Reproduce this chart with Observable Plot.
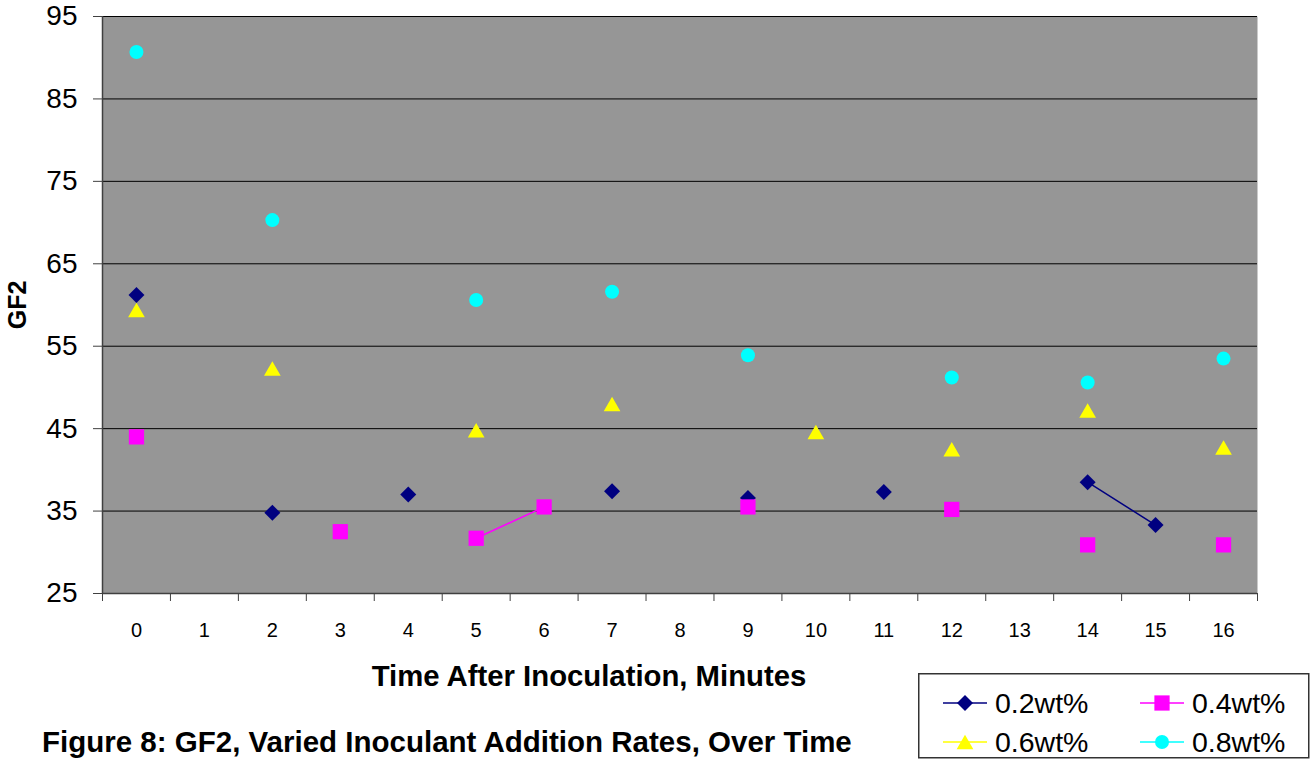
<!DOCTYPE html>
<html>
<head>
<meta charset="utf-8">
<script src="https://cdn.jsdelivr.net/npm/d3@7"></script>
<script src="https://cdn.jsdelivr.net/npm/@observablehq/plot@0.6"></script>
<style>
  body { margin: 0; background: #fff; }
  #wrap { position: relative; width: 1312px; height: 759px; overflow: hidden; background: #fff;
          font-family: "Liberation Sans", Arial, sans-serif; color: #000; }
  #chart { position: absolute; left: 0; top: 0; }
  .lbl { position: absolute; white-space: nowrap; line-height: 1; font-weight: bold; }
  #xlabel { left: 589px; top: 661px; font-size: 29.3px; transform: translateX(-50%); }
  #ylabel { left: 17px; top: 305px; font-size: 25px; transform: translate(-50%, -50%) rotate(-90deg); }
  #caption { left: 42px; top: 727px; font-size: 29.5px; }
  #legend { position: absolute; left: 918px; top: 673px; }
</style>
</head>
<body>
<div id="wrap">
  <div id="chart"></div>
  <div id="ylabel" class="lbl">GF2</div>
  <div id="xlabel" class="lbl">Time After Inoculation, Minutes</div>
  <div id="caption" class="lbl">Figure 8: GF2, Varied Inoculant Addition Rates, Over Time</div>
  <svg id="legend" width="392" height="86"></svg>
</div>
<script>
// ---- data ----
const minutes = [0, 1, 2, 3, 4, 5, 6, 7, 8, 9, 10, 11, 12, 13, 14, 15, 16];
const seriesNames = ["0.2wt%", "0.4wt%", "0.6wt%", "0.8wt%"];
const gf2_02 = [61.2, null, 34.8, null, 37.0, null, null, 37.4, null, 36.6, null, 37.3, null, null, 38.5, 33.3, null];
const gf2_04 = [44.0, null, null, 32.5, null, 31.7, 35.5, null, null, 35.5, null, null, 35.2, null, 30.9, null, 30.9];
const gf2_06 = [59.4, null, 52.3, null, null, 44.8, null, 48.0, null, null, 44.6, null, 42.5, null, 47.2, null, 42.7];
const gf2_08 = [90.7, null, 70.3, null, null, 60.6, null, 61.6, null, 53.9, null, null, 51.2, null, 50.6, null, 53.5];
const yTicks = [25, 35, 45, 55, 65, 75, 85, 95];

// ---- styles ----
const seriesValues = [gf2_02, gf2_04, gf2_06, gf2_08];
const seriesColors = ["#000080", "#FF00FF", "#FFFF00", "#00FFFF"];
const seriesSymbols = ["diamond2", "square", "triangle", "circle"];
const d3Symbols = [d3.symbolDiamond2, d3.symbolSquare, d3.symbolTriangle, d3.symbolCircle];
const seriesR = [7.2, 8.6, 6.2, 7];
const seriesDy = [0, 0, 2.4, 0];

const xDomain = [minutes[0] - 0.5, minutes[minutes.length - 1] + 0.5];
const boundaries = d3.range(xDomain[0], xDomain[1] + 0.01, 1);

const seriesMarks = seriesValues.flatMap((vals, s) => [
  Plot.line(minutes, {x: d => d, y: (d, i) => vals[i], stroke: seriesColors[s], strokeWidth: 1.5}),
  Plot.dot(minutes, {x: d => d, y: (d, i) => vals[i], symbol: seriesSymbols[s], r: seriesR[s],
                     fill: seriesColors[s], stroke: "none", dy: seriesDy[s]})
]);

const chart = Plot.plot({
  width: 1312,
  height: 700,
  marginLeft: 102,
  marginRight: 55,
  marginTop: 16,
  marginBottom: 107,
  style: {fontFamily: "'Liberation Sans', Arial, sans-serif", background: "transparent", color: "#000", overflow: "visible"},
  x: {type: "linear", domain: xDomain},
  y: {type: "linear", domain: [yTicks[0], yTicks[yTicks.length - 1]]},
  marks: [
    Plot.frame({fill: "#969696", stroke: "none"}),
    Plot.gridY(yTicks, {stroke: "#000", strokeOpacity: 1, strokeWidth: 1}),
    Plot.ruleX([xDomain[0]], {stroke: "#404040", strokeWidth: 1.5}),
    Plot.ruleY([yTicks[0]], {stroke: "#404040", strokeWidth: 1.5}),
    Plot.axisY(yTicks, {tickSize: 9, tickPadding: 16, fontSize: 28, label: null, stroke: "#404040", fill: "#000"}),
    Plot.axisX(minutes, {tickSize: 0, tickPadding: 29, fontSize: 20, label: null, fill: "#000"}),
    Plot.axisX(boundaries, {tickSize: 8, tickFormat: () => "", label: null, stroke: "#404040"}),
    ...seriesMarks
  ]
});
document.getElementById("chart").appendChild(chart);

// ---- legend ----
const lg = d3.select("#legend");
lg.append("rect").attr("x", 0.75).attr("y", 0.75).attr("width", 390).attr("height", 84)
  .attr("fill", "#fff").attr("stroke", "#333").attr("stroke-width", 1.5);
const cols = [25, 222];
const rows = [30, 69];
seriesNames.forEach((name, s) => {
  const cx = cols[s % 2], cy = rows[Math.floor(s / 2)];
  const g = lg.append("g");
  g.append("line").attr("x1", cx).attr("x2", cx + 44).attr("y1", cy).attr("y2", cy)
    .attr("stroke", seriesColors[s]).attr("stroke-width", 1.5);
  g.append("path").attr("d", d3.symbol(d3Symbols[s], seriesR[s] * seriesR[s] * Math.PI)())
    .attr("transform", `translate(${cx + 22},${cy + seriesDy[s]})`).attr("fill", seriesColors[s]);
  g.append("text").attr("x", cx + 52).attr("y", cy + 10).attr("font-size", 28.5)
    .attr("font-family", "'Liberation Sans', Arial, sans-serif").attr("fill", "#000").text(name);
});
</script>
</body>
</html>
